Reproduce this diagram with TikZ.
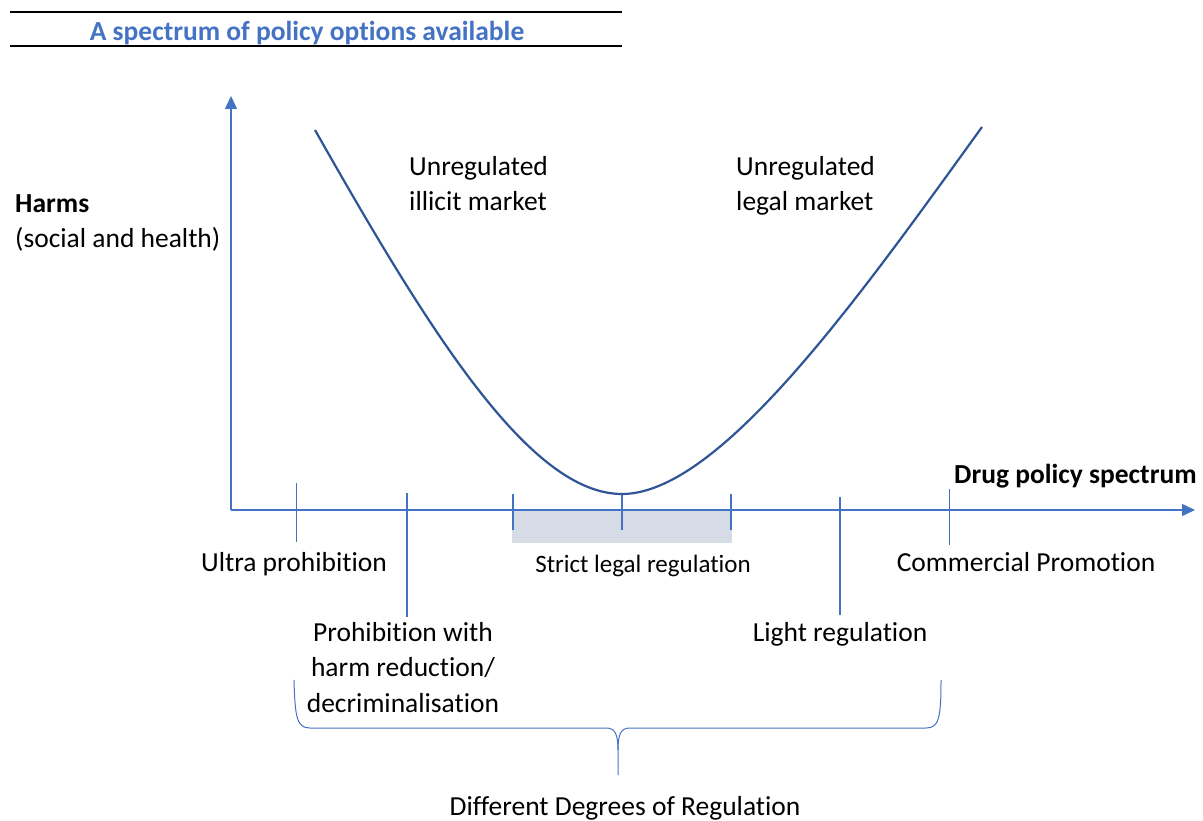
\documentclass[tikz,border=0pt]{standalone}
\usepackage{fontspec}
\setmainfont[Ligatures=NoCommon]{Carlito}
\usetikzlibrary{arrows.meta}
\definecolor{axisblue}{HTML}{4472C4}
\definecolor{curveblue}{HTML}{2F5597}
\definecolor{graybox}{HTML}{D6DCE5}
\tikzset{
  lbl/.style={inner sep=0pt, font=\fontsize{27.5}{35.5}\selectfont, text=black},
  boldlbl/.style={lbl, font=\fontsize{27.5}{35.5}\selectfont\bfseries},
  axisline/.style={draw=axisblue, line width=1.5pt, -{Triangle[length=13pt,width=12pt]}},
  thintick/.style={draw=axisblue, line width=1pt},
  thicktick/.style={draw=axisblue, line width=2.5pt},
  bracestyle/.style={draw=axisblue, line width=1pt},
  rule/.style={draw=black, line width=2pt}
}
\begin{document}
\begin{tikzpicture}[x=1pt,y=-1pt]
\useasboundingbox (0,0) rectangle (1203,821);
\fill[white] (0,0) rectangle (1203,821);

% title
\coordinate (r1a) at (10,12); \coordinate (r1b) at (622,12);
\coordinate (r2a) at (10,46); \coordinate (r2b) at (622,46);
\draw[rule] (r1a) -- (r1b);
\draw[rule] (r2a) -- (r2b);
\node[boldlbl, text=axisblue, anchor=base] (title) at (307,41) {A spectrum of policy options available};

% gray band
\coordinate (gb1) at (512,510); \coordinate (gb2) at (732,543);
\fill[graybox] (gb1) rectangle (gb2);

% axes
\coordinate (O) at (231,510);
\coordinate (ytip) at (231,96);
\coordinate (xtip) at (1195,510);
\draw[axisline] (O) -- (ytip);
\draw[axisline] (O) -- (xtip);

% ticks
\coordinate (t1a) at (296,483); \coordinate (t1b) at (296,542);
\coordinate (t2a) at (407,493); \coordinate (t2b) at (407,617);
\coordinate (t3a) at (513,494); \coordinate (t3b) at (513,530);
\coordinate (t4a) at (622,494); \coordinate (t4b) at (622,530);
\coordinate (t5a) at (731,494); \coordinate (t5b) at (731,530);
\coordinate (t6a) at (840,497); \coordinate (t6b) at (840,615);
\coordinate (t7a) at (949,489); \coordinate (t7b) at (949,545);
\draw[thintick] (t1a) -- (t1b);
\draw[thicktick] (t2a) -- (t2b);
\draw[thicktick] (t3a) -- (t3b);
\draw[thicktick] (t4a) -- (t4b);
\draw[thicktick] (t5a) -- (t5b);
\draw[thicktick] (t6a) -- (t6b);
\draw[thintick] (t7a) -- (t7b);

% curve
\coordinate (cL) at (315,130);
\coordinate (cM) at (622,494);
\coordinate (cR) at (982,127);
\draw[curveblue, line width=2.2pt] (cL) .. controls (430,333) and (530,494) .. (cM)
  .. controls (720,494) and (860,296) .. (cR);

% labels
\node[boldlbl, anchor=base west] (harms) at (15,213) {Harms};
\node[lbl, anchor=base west] (harms2) at (15,248) {(social and health)};
\node[lbl, anchor=base west, align=left] (ill) at (409,211) {Unregulated\\illicit market};
\node[lbl, anchor=base west, align=left] (leg) at (736,211) {Unregulated\\legal market};
\node[boldlbl, anchor=base west] (xlab) at (954,483) {Drug policy spectrum};
\node[lbl, anchor=base] (ultra) at (294,571) {Ultra prohibition};
\node[lbl, anchor=base, font=\fontsize{25}{30}\selectfont] (strict) at (643,572) {Strict legal regulation};
\node[lbl, anchor=base] (comm) at (1026,571) {Commercial Promotion};
\node[lbl, anchor=base, align=center] (prohib) at (403,712) {Prohibition with\\harm reduction/\\decriminalisation};
\node[lbl, anchor=base] (light) at (840,641) {Light regulation};
\node[lbl, anchor=base] (degrees) at (625,815) {Different Degrees of Regulation};

% brace
\coordinate (bL) at (294,680);
\coordinate (bR) at (941,680);
\coordinate (bM) at (618,775);
\draw[bracestyle] (bL) .. controls (295,718) and (297,728) .. (310,728) -- (606,728)
  .. controls (615,728) and (618,734) .. (618,750) -- (bM);
\draw[bracestyle] (618,750) .. controls (618,734) and (621,728) .. (630,728) -- (926,728)
  .. controls (939,728) and (941,718) .. (bR);
\end{tikzpicture}
\end{document}
